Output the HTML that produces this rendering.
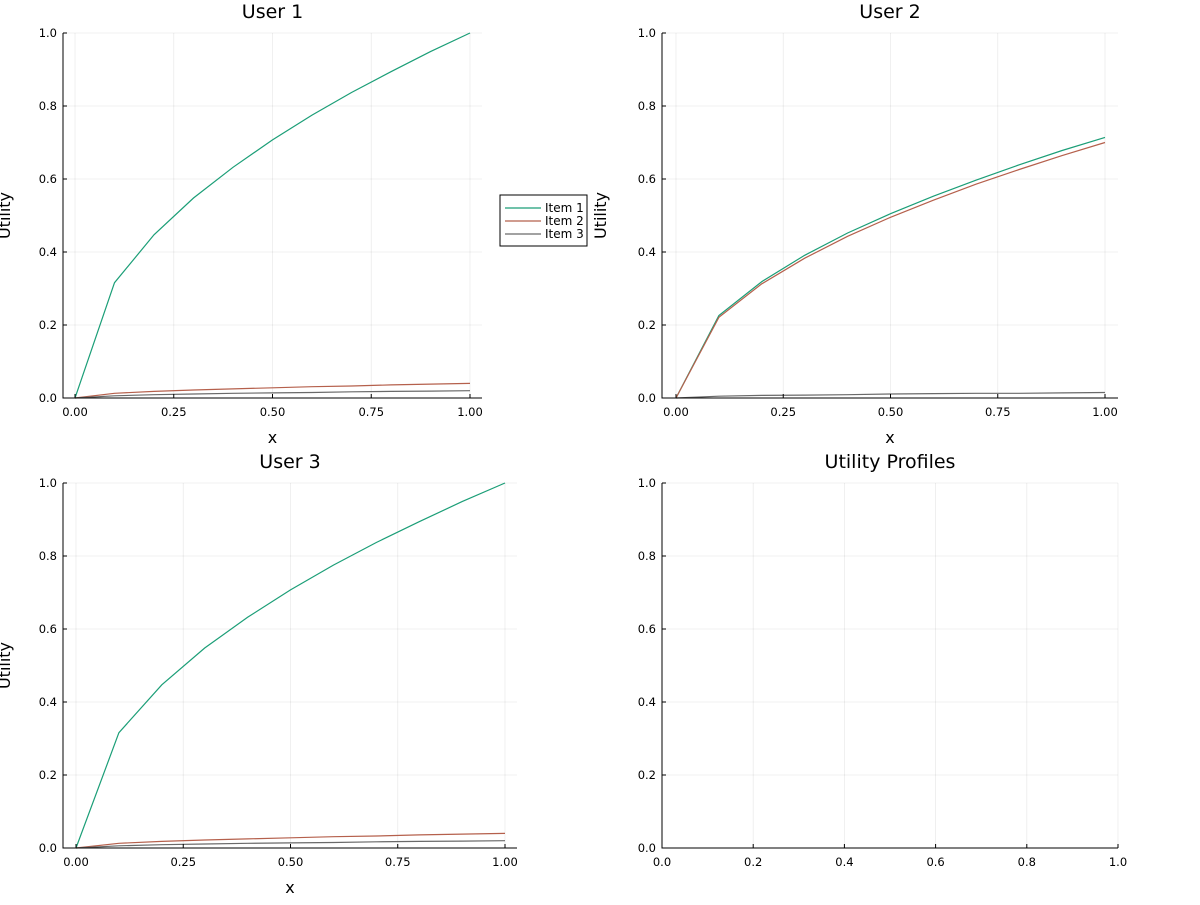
<!DOCTYPE html>
<html><head><meta charset="utf-8"><style>
body{margin:0;background:#fff;font-family:"Liberation Sans","DejaVu Sans",sans-serif;}
svg text{font-family:"DejaVu Sans","Liberation Sans",sans-serif;}
</style></head><body>
<svg id="c" width="1200" height="900" xmlns="http://www.w3.org/2000/svg"></svg>
<script>
const xs=[0,0.1,0.2,0.3,0.4,0.5,0.6,0.7,0.8,0.9,1.0];
const u1i1=[0,0.316,0.447,0.548,0.632,0.707,0.775,0.837,0.894,0.949,1.0];
const u1i2=[0,0.013,0.018,0.022,0.025,0.028,0.031,0.033,0.036,0.038,0.040];
const u1i3=[0,0.006,0.009,0.011,0.013,0.014,0.015,0.017,0.018,0.019,0.020];
const u2i1=[0,0.226,0.319,0.391,0.452,0.505,0.553,0.597,0.639,0.678,0.714];
const u2i2=[0,0.221,0.313,0.383,0.443,0.495,0.542,0.586,0.626,0.664,0.700];
const u2i3=[0,0.005,0.007,0.008,0.009,0.011,0.012,0.013,0.013,0.014,0.015];
const u3i1=[0,0.316,0.447,0.548,0.632,0.707,0.775,0.837,0.894,0.949,1.0];
const u3i2=[0,0.013,0.018,0.022,0.025,0.028,0.031,0.033,0.036,0.038,0.040];
const u3i3=[0,0.006,0.009,0.011,0.013,0.014,0.015,0.017,0.018,0.019,0.020];
const seriesNames=["Item 1","Item 2","Item 3"];
const xTicks=[0,0.25,0.5,0.75,1.0];
const xTicksP4=[0,0.2,0.4,0.6,0.8,1.0];
const yTicks=[0,0.2,0.4,0.6,0.8,1.0];
const colors=["#1b9e77","#b5604c","#6a6a6a"];
const NS="http://www.w3.org/2000/svg";
const svg=document.getElementById('c');
function mk(tag,attrs,parent,text){const e=document.createElementNS(NS,tag);for(const k in attrs)e.setAttribute(k,attrs[k]);if(text!==undefined)e.textContent=text;(parent||svg).appendChild(e);return e;}
function panel(p){
  const g=mk('g',{});
  
  
  const sx=v=>p.x0+(v-p.dmin)/(p.dmax-p.dmin)*(p.x1-p.x0);
  const sy=v=>p.y1-v*(p.y1-p.y0);
  p.xt.forEach(t=>{const l=mk('line',{x1:sx(t),x2:sx(t),y1:p.y0,y2:p.y1,stroke:'#000','stroke-opacity':0.08,'stroke-width':0.8},g);});
  yTicks.forEach(t=>{const l=mk('line',{x1:p.x0,x2:p.x1,y1:sy(t),y2:sy(t),stroke:'#000','stroke-opacity':0.08,'stroke-width':0.8},g);});
  p.series.forEach((s,i)=>{
    const pts=xs.map((x,j)=>sx(x).toFixed(1)+','+sy(s[j]).toFixed(1)).join(' ');
    const pl=mk('polyline',{points:pts,fill:'none',stroke:colors[i],'stroke-width':1.2},g);
    
    
  });
  const ax=mk('path',{d:`M${p.x0},${p.y0}V${p.y1}H${p.x1}`,fill:'none',stroke:'#000','stroke-width':1},g);
  
  p.xt.forEach(t=>{
    mk('line',{x1:sx(t),x2:sx(t),y1:p.y1,y2:p.y1-4,stroke:'#000'},g);
    const tx=mk('text',{x:sx(t),y:p.y1+18,'font-size':11.5,'text-anchor':'middle'},g,t.toFixed(p.dec));
    
  });
  yTicks.forEach(t=>{
    mk('line',{x1:p.x0,x2:p.x0+4,y1:sy(t),y2:sy(t),stroke:'#000'},g);
    const tx=mk('text',{x:p.x0-6,y:sy(t)+4,'font-size':11.5,'text-anchor':'end'},g,t.toFixed(1));
    
  });
  const tt=mk('text',{x:(p.x0+p.x1)/2,y:p.y0-15,'font-size':19,'text-anchor':'middle'},g,p.title);
  
  if(p.xlabel){const t=mk('text',{x:(p.x0+p.x1)/2,y:p.y1+45,'font-size':16,'text-anchor':'middle'},g,'x');}
  if(p.ylabel){const cx=p.ylx,cy=(p.y0+p.y1)/2;const t=mk('text',{x:cx,y:cy,'font-size':16,'text-anchor':'middle',transform:`rotate(-90 ${cx} ${cy})`},g,'Utility');}
}
panel({name:'panel-user-1',title:'User 1',x0:63,x1:482,y0:33,y1:398,dmin:-0.0304,dmax:1.0304,xt:xTicks,dec:2,series:[u1i1,u1i2,u1i3],xlabel:true,ylabel:true,ylx:10});
panel({name:'panel-user-2',title:'User 2',x0:662,x1:1118,y0:33,y1:398,dmin:-0.0326,dmax:1.0303,xt:xTicks,dec:2,series:[u2i1,u2i2,u2i3],xlabel:true,ylabel:true,ylx:606});
panel({name:'panel-user-3',title:'User 3',x0:63,x1:517,y0:483,y1:848,dmin:-0.0303,dmax:1.0280,xt:xTicks,dec:2,series:[u3i1,u3i2,u3i3],xlabel:true,ylabel:true,ylx:10});
panel({name:'panel-utility-profiles',title:'Utility Profiles',x0:662,x1:1118,y0:483,y1:848,dmin:0,dmax:1,xt:xTicksP4,dec:1,series:[],xlabel:false,ylabel:false});
const lg=mk('g',{});


mk('rect',{x:500,y:195,width:87,height:51,fill:'#fff',stroke:'#000','stroke-width':1},lg);
seriesNames.forEach((n,i)=>{
  const y=208+i*13;
  const e=mk('g',{},lg);
  
  
  mk('line',{x1:505,x2:541,y1:y,y2:y,stroke:colors[i],'stroke-width':1.2},e);
  mk('text',{x:545,y:y+4,'font-size':12},e,n);
});
</script>
</body></html>
